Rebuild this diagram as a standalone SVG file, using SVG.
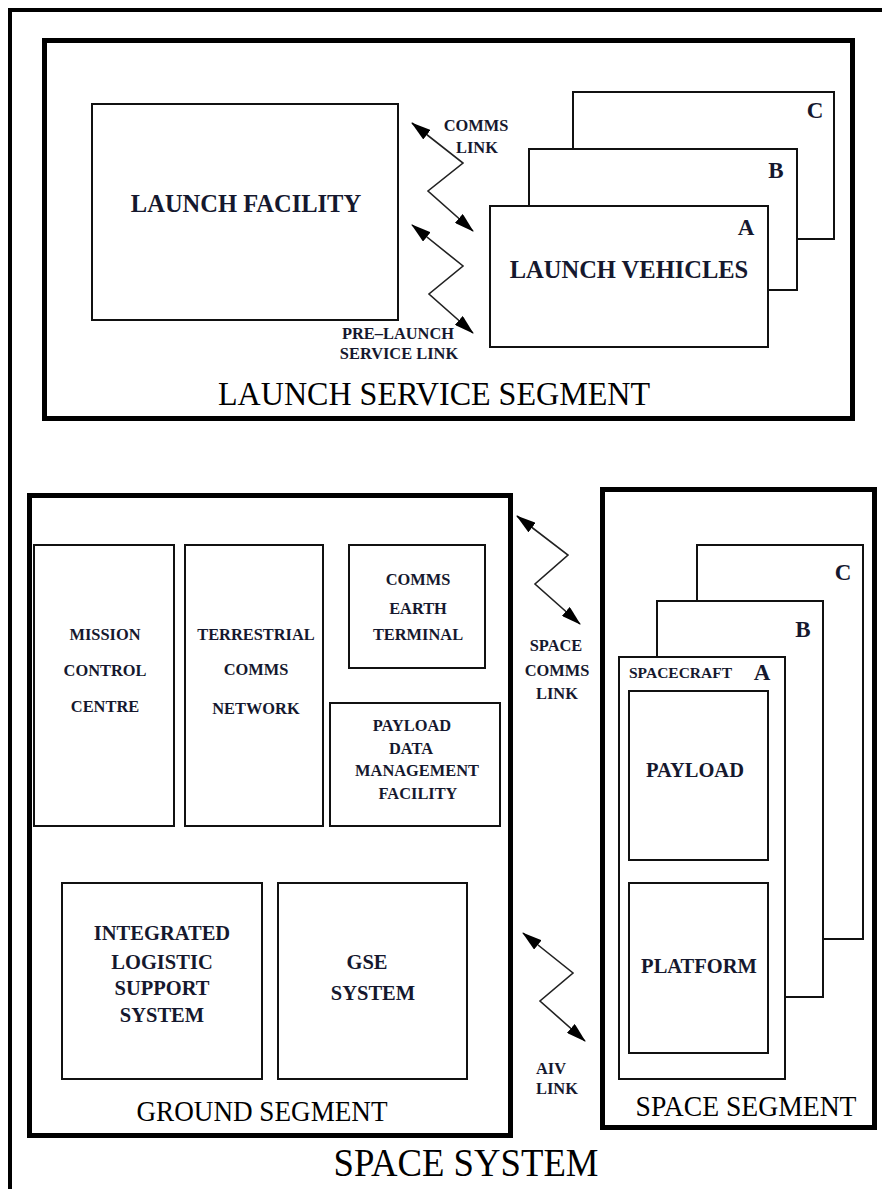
<svg xmlns="http://www.w3.org/2000/svg" width="882" height="1189" viewBox="0 0 882 1189">
  <style>
    .seg { fill: none; stroke: #000; stroke-width: 5; }
    .box { fill: #fff; stroke: #111; stroke-width: 2; }
    .link { fill: none; stroke: #222; stroke-width: 1.6; marker-start: url(#head); marker-end: url(#head); }
    text { font-family: "Liberation Serif", "Times New Roman", serif; fill: #15182e; }
    .big { font-size: 24.5px; font-weight: bold; text-anchor: middle; }
    .mid { font-size: 20.5px; font-weight: bold; text-anchor: middle; }
    .sm { font-size: 16.4px; font-weight: bold; text-anchor: middle; }
    .let { font-size: 23px; font-weight: bold; text-anchor: middle; }
    .title { font-weight: normal; text-anchor: middle; fill: #000; }
  </style>
  <defs>
    <marker id="head" viewBox="0 0 20 12" refX="19" refY="6" markerWidth="20" markerHeight="12" markerUnits="userSpaceOnUse" orient="auto-start-reverse">
      <path d="M0,0 L20,6 L0,12 z" fill="#000"/>
    </marker>
  </defs>

  <rect width="882" height="1189" fill="#fff"/>

  <!-- outer space system frame -->
  <g id="space-system">
    <rect x="10" y="10" width="900" height="1220" class="seg" style="stroke-width:4"/>
    <text class="title" x="466" y="1176" font-size="40" textLength="265" lengthAdjust="spacingAndGlyphs">SPACE  SYSTEM</text>
  </g>

  <!-- launch service segment -->
  <g id="launch-service-segment">
    <rect x="44.5" y="40.5" width="808" height="378" class="seg"/>
    <text class="title" x="434" y="405" font-size="33" textLength="432" lengthAdjust="spacingAndGlyphs">LAUNCH  SERVICE  SEGMENT</text>
  </g>
  <g id="launch-facility">
    <rect x="92" y="104" width="306" height="216" class="box"/>
    <text class="big" x="246" y="211.5">LAUNCH  FACILITY</text>
  </g>
  <g id="launch-vehicles">
    <rect x="573" y="92" width="261" height="147" class="box"/>
    <text class="let" x="815" y="118">C</text>
    <rect x="529" y="149" width="268" height="141" class="box"/>
    <text class="let" x="776" y="178">B</text>
    <rect x="490" y="206" width="278" height="141" class="box"/>
    <text class="let" x="746" y="235">A</text>
    <text class="big" x="629" y="278">LAUNCH VEHICLES</text>
  </g>

  <!-- ground segment -->
  <g id="ground-segment">
    <rect x="29.5" y="495.5" width="481" height="640" class="seg"/>
    <text class="title" x="262" y="1121" font-size="30" textLength="251" lengthAdjust="spacingAndGlyphs">GROUND  SEGMENT</text>
  </g>
  <g id="mission-control-centre">
    <rect x="34" y="545" width="140" height="281" class="box"/>
    <text class="sm" x="105" y="640">MISSION</text>
    <text class="sm" x="105" y="676">CONTROL</text>
    <text class="sm" x="105" y="712">CENTRE</text>
  </g>
  <g id="terrestrial-comms-network">
    <rect x="185" y="545" width="138" height="281" class="box"/>
    <text class="sm" x="256" y="640">TERRESTRIAL</text>
    <text class="sm" x="256" y="675">COMMS</text>
    <text class="sm" x="256" y="714">NETWORK</text>
  </g>
  <g id="comms-earth-terminal">
    <rect x="349" y="545" width="136" height="123" class="box"/>
    <text class="sm" x="418" y="585">COMMS</text>
    <text class="sm" x="418" y="614">EARTH</text>
    <text class="sm" x="418" y="640">TERMINAL</text>
  </g>
  <g id="payload-data-management-facility">
    <rect x="330" y="703" width="170" height="123" class="box"/>
    <text class="sm" x="412" y="731">PAYLOAD</text>
    <text class="sm" x="411" y="754">DATA</text>
    <text class="sm" x="417" y="776">MANAGEMENT</text>
    <text class="sm" x="418" y="799">FACILITY</text>
  </g>
  <g id="integrated-logistic-support-system">
    <rect x="62" y="883" width="200" height="196" class="box"/>
    <text class="mid" x="162" y="940">INTEGRATED</text>
    <text class="mid" x="162" y="969">LOGISTIC</text>
    <text class="mid" x="162" y="995">SUPPORT</text>
    <text class="mid" x="162" y="1022">SYSTEM</text>
  </g>
  <g id="gse-system">
    <rect x="278" y="883" width="189" height="196" class="box"/>
    <text class="mid" x="367" y="969">GSE</text>
    <text class="mid" x="373" y="1000">SYSTEM</text>
  </g>

  <!-- space segment -->
  <g id="space-segment">
    <rect x="602.5" y="489.5" width="272" height="638" class="seg"/>
    <text class="title" x="746" y="1116" font-size="29" textLength="221" lengthAdjust="spacingAndGlyphs">SPACE  SEGMENT</text>
  </g>
  <g id="spacecraft">
    <rect x="697" y="545" width="166" height="394" class="box"/>
    <text class="let" x="843" y="580">C</text>
    <rect x="657" y="601" width="166" height="396" class="box"/>
    <text class="let" x="803" y="637">B</text>
    <rect x="619" y="657" width="166" height="422" class="box"/>
    <text class="let" x="762" y="680">A</text>
    <text x="629" y="678" font-size="15.5" font-weight="bold">SPACECRAFT</text>
  </g>
  <g id="payload">
    <rect x="629" y="691" width="139" height="169" class="box"/>
    <text class="mid" x="695" y="777">PAYLOAD</text>
  </g>
  <g id="platform">
    <rect x="629" y="883" width="139" height="170" class="box"/>
    <text class="mid" x="699" y="973">PLATFORM</text>
  </g>

  <!-- links -->
  <g id="connectors">
    <polyline class="link" points="412,123 463,163 428,191 473,231"/>
    <polyline class="link" points="412,225 463,266 429,294 473,333"/>
    <polyline class="link" points="517,516 568,555 535,584 580,624"/>
    <polyline class="link" points="523,933 573,973 540,1001 585,1041"/>
    <text class="sm" x="476" y="130.5">COMMS</text>
    <text class="sm" x="477" y="152.5">LINK</text>
    <text class="sm" x="398" y="338.5">PRE–LAUNCH</text>
    <text class="sm" x="399" y="358.5">SERVICE LINK</text>
    <text class="sm" x="556" y="650.5">SPACE</text>
    <text class="sm" x="557" y="675.5">COMMS</text>
    <text class="sm" x="557" y="698.5">LINK</text>
    <text class="sm" x="536" y="1074" style="text-anchor:start">AIV</text>
    <text class="sm" x="536" y="1094" style="text-anchor:start">LINK</text>
  </g>
</svg>
